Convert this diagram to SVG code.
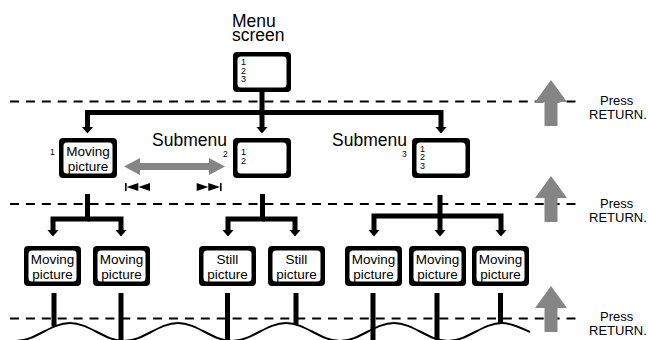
<svg xmlns="http://www.w3.org/2000/svg" width="648" height="340" viewBox="0 0 648 340">
<defs>
<style>
text{font-family:"Liberation Sans",Arial,sans-serif;fill:#000}
.box{fill:#000}
.inner{fill:#fff}
.lbl{font-size:13.5px;text-anchor:middle}
.num{font-size:9px}
.sub{font-size:8.5px}
.big{font-size:17.5px}
.press{font-size:13px}
.dash{stroke:#000;stroke-width:2;stroke-dasharray:9 6.9;fill:none}
.con{stroke:#000;stroke-width:5;fill:none;stroke-linejoin:miter}
.stem{stroke:#000;stroke-width:5;fill:none}
.wave{stroke:#000;stroke-width:2;fill:none}
.gray{fill:#858585}
</style>
<marker id="ah" markerUnits="userSpaceOnUse" viewBox="0 -6 7 12" markerWidth="7" markerHeight="12" refX="0.5" refY="0" orient="auto">
<path d="M0,-6 L7,0 L0,6 z" fill="#000"/>
</marker>
</defs>

<g id="dashed-lines">
<line class="dash" x1="10" y1="101.5" x2="582" y2="101.5"/>
<line class="dash" x1="10" y1="204" x2="582" y2="204"/>
<line class="dash" x1="10" y1="318.5" x2="582" y2="318.5"/>
</g>

<g id="connectors">
<path class="con" d="M262,92 V127" marker-end="url(#ah)"/>
<path class="con" d="M262,112.5 H87.5 V127" marker-end="url(#ah)"/>
<path class="con" d="M262,112.5 H441 V127" marker-end="url(#ah)"/>

<path class="con" d="M87.5,194 V219 H53 V230" marker-end="url(#ah)"/>
<path class="con" d="M87.5,219 H121 V230" marker-end="url(#ah)"/>

<path class="con" d="M262.5,194 V219 H228 V230" marker-end="url(#ah)"/>
<path class="con" d="M262.5,219 H295 V230" marker-end="url(#ah)"/>

<path class="con" d="M440,195 V230" marker-end="url(#ah)"/>
<path class="con" d="M440,216 H374 V230" marker-end="url(#ah)"/>
<path class="con" d="M440,216 H501 V230" marker-end="url(#ah)"/>

<line class="stem" x1="54" y1="293" x2="54" y2="326.5"/>
<line class="stem" x1="121" y1="293" x2="121" y2="340"/>
<line class="stem" x1="227.5" y1="293" x2="227.5" y2="340"/>
<line class="stem" x1="296" y1="293" x2="296" y2="324.5"/>
<line class="stem" x1="373" y1="293" x2="373" y2="340"/>
<line class="stem" x1="437" y1="293" x2="437" y2="340"/>
<line class="stem" x1="500.5" y1="293" x2="500.5" y2="323.5"/>

<path class="wave" d="M16,341 C35.7,341 50.3,323 70,323 C89.7,323 104.3,341 124,341 C143.7,341 158.3,323 178,323 C197.7,323 212.3,341 232,341 C251.7,341 266.3,323 286,323 C305.7,323 320.3,341 340,341 C359.7,341 374.3,323 394,323 C413.7,323 428.3,341 448,341 C467.7,341 482.3,323 502,323 C511,323 521,328 530,332"/>
</g>

<g id="menu-screen">
<text class="big" x="232" y="27">Menu</text>
<text class="big" x="232" y="41">screen</text>
<rect class="box" x="233" y="52" width="58" height="40" rx="4"/>
<rect class="inner" x="237.5" y="56.5" width="49" height="31" rx="3.5"/>
<text class="num" x="241" y="65">1</text>
<text class="num" x="241" y="73.7">2</text>
<text class="num" x="241" y="82.4">3</text>
</g>

<g id="submenu1">
<text class="sub" x="50" y="155">1</text>
<rect class="box" x="59" y="138" width="58" height="40" rx="4"/>
<rect class="inner" x="63.5" y="142.5" width="49" height="31" rx="3.5"/>
<text class="lbl" x="88" y="156">Moving</text>
<text class="lbl" x="88" y="171">picture</text>
</g>

<g id="submenu2">
<text class="big" x="152" y="146">Submenu</text>
<text class="sub" x="223" y="157">2</text>
<rect class="box" x="233" y="138" width="58" height="40" rx="4"/>
<rect class="inner" x="237.5" y="142.5" width="49" height="31" rx="3.5"/>
<text class="num" x="241" y="155">1</text>
<text class="num" x="241" y="163.7">2</text>
</g>

<g id="submenu3">
<text class="big" x="332" y="146">Submenu</text>
<text class="sub" x="402" y="157">3</text>
<rect class="box" x="412" y="138" width="58" height="40" rx="4"/>
<rect class="inner" x="416.5" y="142.5" width="49" height="31" rx="3.5"/>
<text class="num" x="420" y="151.5">1</text>
<text class="num" x="420" y="160.2">2</text>
<text class="num" x="420" y="168.9">3</text>
</g>

<g id="skip-arrows">
<rect class="gray" x="138" y="163" width="73" height="7"/>
<polygon class="gray" points="124,166.5 140,158 140,175"/>
<polygon class="gray" points="225,166.5 209,158 209,175"/>
<rect x="125" y="183" width="1.6" height="8" fill="#000"/>
<polygon points="126.6,187 138.3,183 138.3,191" fill="#000"/>
<polygon points="138.3,187 150,183 150,191" fill="#000"/>
<polygon points="208.3,187 196.7,183 196.7,191" fill="#000"/>
<polygon points="220,187 208.3,183 208.3,191" fill="#000"/>
<rect x="220" y="183" width="1.6" height="8" fill="#000"/>
</g>

<g id="moving1">
<rect class="box" x="24" y="246" width="57" height="40" rx="4"/>
<rect class="inner" x="28.5" y="250.5" width="48" height="31" rx="3.5"/>
<text class="lbl" x="52.5" y="264">Moving</text>
<text class="lbl" x="52.5" y="279">picture</text>
</g>
<g id="moving2">
<rect class="box" x="93" y="246" width="57" height="40" rx="4"/>
<rect class="inner" x="97.5" y="250.5" width="48" height="31" rx="3.5"/>
<text class="lbl" x="121.5" y="264">Moving</text>
<text class="lbl" x="121.5" y="279">picture</text>
</g>
<g id="still1">
<rect class="box" x="199" y="246" width="57" height="40" rx="4"/>
<rect class="inner" x="203.5" y="250.5" width="48" height="31" rx="3.5"/>
<text class="lbl" x="227.5" y="264">Still</text>
<text class="lbl" x="227.5" y="279">picture</text>
</g>
<g id="still2">
<rect class="box" x="268" y="246" width="57" height="40" rx="4"/>
<rect class="inner" x="272.5" y="250.5" width="48" height="31" rx="3.5"/>
<text class="lbl" x="296.5" y="264">Still</text>
<text class="lbl" x="296.5" y="279">picture</text>
</g>
<g id="moving3">
<rect class="box" x="345" y="246" width="57" height="40" rx="4"/>
<rect class="inner" x="349.5" y="250.5" width="48" height="31" rx="3.5"/>
<text class="lbl" x="373.5" y="264">Moving</text>
<text class="lbl" x="373.5" y="279">picture</text>
</g>
<g id="moving4">
<rect class="box" x="409" y="246" width="57" height="40" rx="4"/>
<rect class="inner" x="413.5" y="250.5" width="48" height="31" rx="3.5"/>
<text class="lbl" x="437.5" y="264">Moving</text>
<text class="lbl" x="437.5" y="279">picture</text>
</g>
<g id="moving5">
<rect class="box" x="472" y="246" width="57" height="40" rx="4"/>
<rect class="inner" x="476.5" y="250.5" width="48" height="31" rx="3.5"/>
<text class="lbl" x="500.5" y="264">Moving</text>
<text class="lbl" x="500.5" y="279">picture</text>
</g>

<g id="return1">
<polygon class="gray" points="551,80 567,102 557.5,102 557.5,126 544.5,126 544.5,102 535,102"/>
<text class="press" x="600" y="105">Press</text>
<text class="press" x="589" y="118.5">RETURN.</text>
</g>
<g id="return2">
<polygon class="gray" points="551,176 567,198 557.5,198 557.5,222 544.5,222 544.5,198 535,198"/>
<text class="press" x="600" y="208">Press</text>
<text class="press" x="589" y="221.5">RETURN.</text>
</g>
<g id="return3">
<polygon class="gray" points="551,286 567,308 557.5,308 557.5,332 544.5,332 544.5,308 535,308"/>
<text class="press" x="600" y="321">Press</text>
<text class="press" x="589" y="334.5">RETURN.</text>
</g>
</svg>
